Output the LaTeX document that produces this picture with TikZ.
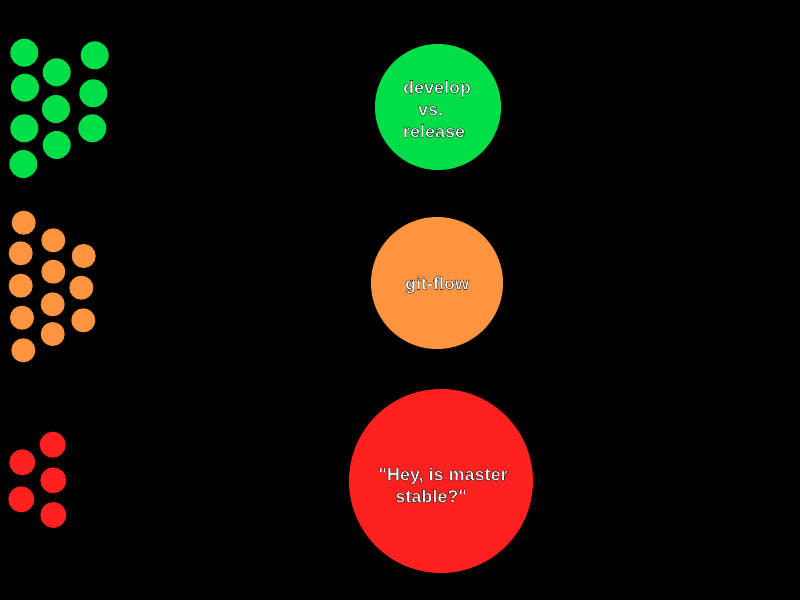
\documentclass[tikz,border=0pt]{standalone}
\usepackage{fontspec}
\newfontfamily\labelfont{Liberation Sans}
\usepackage{tikz}

% white letters with a thin black edge (fill + stroke render mode)
\newcommand{\glow}[1]{\special{pdf:literal direct 2 Tr 0.35 w 0 0 0 RG}#1\special{pdf:literal direct 0 Tr}}

\begin{document}
\begin{tikzpicture}[x=1pt,y=-1pt]
\definecolor{teamgreen}{RGB}{0,222,72}
\definecolor{teamorange}{RGB}{255,148,64}
\definecolor{teamred}{RGB}{255,32,32}
\tikzset{bigdot/.style={circle, inner sep=0pt},
  bigtext/.style={text=white, align=left, inner sep=0pt,
  font=\labelfont\bfseries\fontsize{18}{22}\selectfont}}

% Background
\fill[black] (0,0) rectangle (800,600);

% ---- GREEN DOTS ----
\fill[teamgreen] (24.3,52.7) circle (14pt);
\fill[teamgreen] (25.0,87.7) circle (14pt);
\fill[teamgreen] (24.3,128.3) circle (14pt);
\fill[teamgreen] (23.3,164.0) circle (14pt);
\fill[teamgreen] (56.7,72.3) circle (14pt);
\fill[teamgreen] (56.0,109.0) circle (14pt);
\fill[teamgreen] (56.7,145.0) circle (14pt);
\fill[teamgreen] (94.7,55.3) circle (14pt);
\fill[teamgreen] (93.3,93.3) circle (14pt);
\fill[teamgreen] (92.3,128.3) circle (14pt);

% ---- ORANGE DOTS ----
\fill[teamorange] (23.7,222.7) circle (12pt);
\fill[teamorange] (20.7,253.3) circle (12pt);
\fill[teamorange] (20.7,285.7) circle (12pt);
\fill[teamorange] (22.0,317.7) circle (12pt);
\fill[teamorange] (23.3,350.3) circle (12pt);
\fill[teamorange] (53.3,240.3) circle (12pt);
\fill[teamorange] (53.3,271.7) circle (12pt);
\fill[teamorange] (52.7,304.3) circle (12pt);
\fill[teamorange] (52.7,334.0) circle (12pt);
\fill[teamorange] (83.7,256.0) circle (12pt);
\fill[teamorange] (81.3,287.7) circle (12pt);
\fill[teamorange] (83.3,320.3) circle (12pt);

% ---- RED DOTS ----
\fill[teamred] (22.3,462.3) circle (13pt);
\fill[teamred] (21.3,499.3) circle (13pt);
\fill[teamred] (52.7,444.7) circle (13pt);
\fill[teamred] (53.3,480.3) circle (13pt);
\fill[teamred] (53.3,515.0) circle (13pt);

% ---- BIG CIRCLES ----
\node[bigdot, fill=teamgreen, minimum size=126pt] (devrel) at (438,107) {};
\node[bigdot, fill=teamorange, minimum size=132pt] (gitflow) at (437,283) {};
\node[bigdot, fill=teamred, minimum size=184pt] (stable) at (441,481) {};

% ---- LABELS ----
\node[bigtext] (devrellabel) at (437,109)
  {\glow{develop}\\ \hspace{15pt}\glow{vs.}\\ \glow{release}};
\node[bigtext] (gitflowlabel) at (437,285) {\glow{git-flow}};
\node[bigtext] (stablelabel) at (443,485)
  {\glow{"Hey, is master}\\ \hspace{17pt}\glow{stable?"}};

\end{tikzpicture}
\end{document}
